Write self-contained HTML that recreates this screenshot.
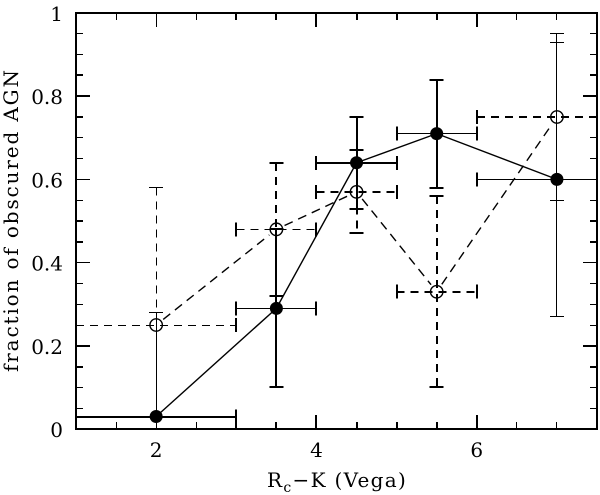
<!DOCTYPE html>
<html>
<head>
<meta charset="utf-8">
<style>
html,body{margin:0;padding:0;background:#fff;}
svg{display:block;}
text{font-family:"DejaVu Serif","Liberation Serif",serif;fill:#000;}
</style>
</head>
<body>
<svg id="chart" width="600" height="495" viewBox="0 0 600 495" xmlns="http://www.w3.org/2000/svg">
  <text x="267" y="487" font-size="20" letter-spacing="1.3">R<tspan font-size="14" dy="5">c</tspan><tspan dy="-5">−K (Vega)</tspan></text>
  <text transform="translate(18,372) rotate(-90)" font-size="20" textLength="302" lengthAdjust="spacing">fraction of obscured AGN</text>
</svg>
<script>
const binCenters = [2, 3.5, 4.5, 5.5, 7];
const binLow = [1, 3, 4, 5, 6];
const binHigh = [3, 4, 5, 6, 7.5];
const filledValues = [0.03, 0.29, 0.64, 0.71, 0.60];
const filledUpper = [0.28, 0.48, 0.75, 0.84, 0.93];
const filledLower = [0.03, 0.10, 0.53, 0.58, 0.27];
const openValues = [0.25, 0.48, 0.57, 0.33, 0.75];
const openUpper = [0.58, 0.64, 0.67, 0.56, 0.95];
const openLower = [0.25, 0.32, 0.47, 0.10, 0.55];
const xTickLabels = [2, 4, 6];
const yTickLabels = ["0", "0.2", "0.4", "0.6", "0.8", "1"];

const X0 = 76, X1 = 597, Y0 = 429, Y1 = 13;
const sx = v => X0 + (v - 1) * (X1 - X0) / 6.5;
const sy = v => Y0 - v * (Y0 - Y1);
const svg = document.getElementById('chart');
const NS = 'http://www.w3.org/2000/svg';

function mk(tag, attrs, parent) {
  const el = document.createElementNS(NS, tag);
  for (const k in attrs) el.setAttribute(k, attrs[k]);
  (parent || svg).appendChild(el);
  return el;
}
function snap(p, w) {
  return w % 2 === 1 ? Math.floor(p) + 0.5 : Math.round(p);
}
function seg(x1, y1, x2, y2, w, dash, parent) {
  if (x1 === x2) { x1 = x2 = snap(x1, w); }
  if (y1 === y2) { y1 = y2 = snap(y1, w); }
  const a = {x1: x1, y1: y1, x2: x2, y2: y2, stroke: '#000', 'stroke-width': w};
  if (dash) a['stroke-dasharray'] = dash;
  return mk('line', a, parent);
}

// axis frame and ticks
const frame = mk('rect', {x: X0, y: Y1, width: X1 - X0, height: Y0 - Y1, fill: 'none', stroke: '#000', 'stroke-width': 2, 'shape-rendering': 'crispEdges'});



const xTicksGroup = mk('g', {'shape-rendering': 'crispEdges'});


for (let i = 1; i <= 13; i++) {
  const v = 1 + i * 0.5;
  if (v >= 7.5) break;
  const major = Math.abs(v % 1) < 1e-6 && v % 2 === 0;
  const len = major ? 14 : 7;
  const w = (v >= 3 && v <= 6) ? 2 : 1;
  seg(sx(v), Y0, sx(v), Y0 - len, w, null, xTicksGroup);
  seg(sx(v), Y1, sx(v), Y1 + len, w, null, xTicksGroup);
}
const yTicksGroup = mk('g', {'shape-rendering': 'crispEdges'});


const heavyYTicks = [3, 4, 9, 10, 15, 16, 17];
for (let i = 1; i < 20; i++) {
  const v = i * 0.05;
  const len = i % 4 === 0 ? 14 : 7;
  const w = heavyYTicks.indexOf(i) >= 0 ? 2 : 1;
  seg(X0, sy(v), X0 + len, sy(v), w, null, yTicksGroup);
  seg(X1, sy(v), X1 - len, sy(v), w, null, yTicksGroup);
}
xTickLabels.forEach(function (t) {
  const el = mk('text', {x: sx(t), y: 457, 'font-size': 20, 'text-anchor': 'middle'});
  
  
  el.textContent = t;
});
yTickLabels.forEach(function (t, i) {
  const el = mk('text', {x: 63, y: sy(i * 0.2) + 8, 'font-size': 20, 'text-anchor': 'end'});
  
  
  el.textContent = t;
});

// series drawing
function drawErrors(vals, up, low, dash, xW, yW, name) {
  const g = mk('g', {'shape-rendering': 'crispEdges'});
  
  
  binCenters.forEach(function (c, i) {
    const cx = sx(c), cy = sy(vals[i]);
    const lo = sx(binLow[i]), hi = sx(binHigh[i]);
    seg(lo, cy, hi, cy, xW[i], dash, g);
    if (binLow[i] > 1) seg(lo, cy - 7, lo, cy + 7, Math.max(xW[i], 2), null, g);
    if (binHigh[i] < 7.5) seg(hi, cy - 7, hi, cy + 7, Math.max(xW[i], 2), null, g);
    seg(cx, sy(up[i]), cx, sy(low[i]), yW[i], dash, g);
    if (up[i] !== vals[i]) seg(cx - 7, sy(up[i]), cx + 7, sy(up[i]), yW[i], null, g);
    if (low[i] !== vals[i]) seg(cx - 7, sy(low[i]), cx + 7, sy(low[i]), yW[i], null, g);
  });
}
function drawLine(vals, dash, trim, name) {
  const g = mk('g', {});
  
  
  for (let i = 0; i < vals.length - 1; i++) {
    const ax = sx(binCenters[i]), ay = sy(vals[i]), bx = sx(binCenters[i + 1]), by = sy(vals[i + 1]);
    const d = Math.hypot(bx - ax, by - ay), ux = (bx - ax) / d, uy = (by - ay) / d;
    seg(ax + ux * trim, ay + uy * trim, bx - ux * trim, by - uy * trim, 1.4, dash, g);
  }
}

const filledXWidths = [2, 1, 2, 1, 1], filledYWidths = [1, 2, 2, 2, 1];
const openXWidths = [1, 1, 2, 2, 2], openYWidths = [1, 2, 2, 2, 1];

drawErrors(openValues, openUpper, openLower, '8 6', openXWidths, openYWidths, 'open-series-error-bars');
drawErrors(filledValues, filledUpper, filledLower, null, filledXWidths, filledYWidths, 'filled-series-error-bars');
drawLine(openValues, '9 6', 9, 'open-series-line');
drawLine(filledValues, null, 0, 'filled-series-line');

binCenters.forEach(function (c, i) {
  const o = mk('circle', {cx: sx(c), cy: sy(openValues[i]), r: 6.2, fill: 'none', stroke: '#000', 'stroke-width': 1.4});
  
  
  const f = mk('circle', {cx: sx(c), cy: sy(filledValues[i]), r: 6.5, fill: '#000'});
  
  
});
</script>
</body>
</html>
